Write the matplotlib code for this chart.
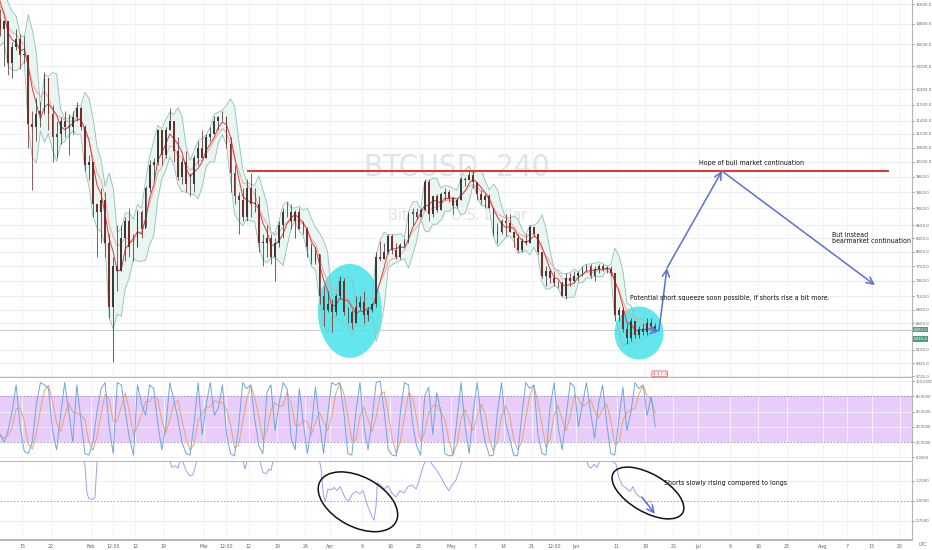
import numpy as np
import pandas as pd
import matplotlib
matplotlib.use('Agg')
import matplotlib.pyplot as plt
import matplotlib.dates as mdates
import matplotlib.transforms as mtransforms
from matplotlib.patches import Ellipse
from matplotlib.ticker import NullLocator
from matplotlib import font_manager

# daily candles, Jan 4 .. Jun 20 2018 (first five days are only band warm-up)
START = '2018-01-04'
close = [
    15100, 17000, 17100, 16200, 15000,
    14600, 14900, 13300, 13900, 14200, 13600, 13600,
    11300, 11200, 11600, 11700, 12800, 11600, 10900,
    11000, 11400, 11200, 11200, 11500, 11800, 11200,
    10100, 10200, 9100, 8900, 9200, 8200, 6900,
    7700, 7600, 8300, 8700, 8100, 8100, 8900,
    8500, 9500, 10100, 10200, 11100, 10400, 11100,
    11400, 10500, 9800, 10200, 9600, 9600, 10300,
    10600, 10300, 10900, 11000, 11400, 11500, 11500,
    10700, 9900, 9300, 9200, 8800, 9500, 9100,
    9100, 8200, 8200, 8300, 7900, 8200, 8600,
    8900, 8900, 8700, 8900, 8500, 8500, 8100,
    7800, 7950, 7100, 6850, 6950, 6800, 7100,
    7400, 6800, 6800, 6600, 6900, 7000, 6750,
    6850, 6950, 7900, 7850, 8000, 8350, 8050,
    7900, 8150, 8250, 8850, 8900, 8800, 8950,
    9650, 8850, 9300, 8950, 9350, 9400, 9250,
    9050, 9200, 9750, 9700, 9850, 9650, 9350,
    9200, 9300, 9000, 8400, 8450, 8700, 8650,
    8450, 8300, 8050, 8250, 8200, 8550, 8400,
    8000, 7500, 7600, 7450, 7350, 7350, 7100,
    7450, 7400, 7500, 7550, 7650, 7700, 7500,
    7650, 7700, 7650, 7650, 7550, 6750, 6850,
    6500, 6350, 6650, 6400, 6500, 6450, 6600,
    6550, 6490,
]
high = [
    15500, 17200, 17250, 17100, 16300,
    15400, 14950, 14900, 14100, 14600, 14400, 14300,
    13600, 11700, 12100, 12000, 13000, 12800, 11900,
    11400, 11500, 11700, 11600, 11700, 12000, 11850,
    11250, 10400, 10200, 9100, 9500, 9400, 8400,
    7900, 8600, 8600, 8800, 9000, 8400, 8950,
    8950, 9550, 10250, 10300, 11150, 11100, 11200,
    11800, 11300, 10900, 10300, 10500, 9900, 10400,
    10800, 11100, 11000, 11200, 11550, 11550, 11700,
    11550, 10900, 10100, 9400, 9500, 9750, 9900,
    9500, 9300, 8400, 8600, 8400, 8300, 8700,
    9000, 9150, 9100, 8950, 9000, 8700, 8550,
    8200, 8100, 7950, 7300, 7200, 7050, 7150,
    7500, 7450, 6900, 6850, 7100, 7100, 7200,
    6900, 6980, 8000, 8250, 8200, 8400, 8400,
    8200, 8200, 8300, 8900, 9000, 9000, 9000,
    9750, 9750, 9300, 9350, 9400, 9500, 9450,
    9250, 9250, 9800, 9800, 9990, 9950, 9650,
    9450, 9350, 9350, 9000, 8650, 8750, 8850,
    8850, 8450, 8400, 8300, 8400, 8600, 8550,
    8400, 8000, 7700, 7650, 7600, 7400, 7400,
    7550, 7550, 7600, 7600, 7700, 7750, 7750,
    7700, 7750, 7750, 7700, 7700, 7550, 6900,
    6900, 6600, 6700, 6650, 6550, 6600, 6700,
    6700, 6600,
]
low = [
    14400, 14900, 16400, 15800, 14000,
    14300, 13200, 12900, 12800, 13800, 13100, 13300,
    10600, 9450, 10800, 11200, 11600, 11100, 10200,
    10300, 10700, 10900, 10400, 11000, 11400, 11100,
    9950, 9700, 8800, 7900, 8200, 7900, 6700,
    5950, 7200, 7600, 7800, 7900, 7800, 8100,
    8300, 8550, 9400, 9700, 10100, 10100, 10300,
    11100, 10200, 9700, 9600, 9400, 9300, 9400,
    10100, 10300, 10300, 10800, 11000, 11100, 11400,
    10600, 9400, 9100, 8400, 8700, 8700, 8800,
    8900, 8000, 7700, 7900, 7750, 7400, 8100,
    8300, 8800, 8500, 8300, 8500, 8400, 7900,
    7750, 7750, 6950, 6550, 6800, 6450, 6750,
    7050, 6750, 6600, 6500, 6600, 6850, 6600,
    6650, 6800, 6900, 7800, 7850, 7950, 7950,
    7850, 7850, 8100, 8200, 8600, 8750, 8800,
    8950, 8700, 8800, 8900, 8950, 9200, 9150,
    8850, 9000, 9200, 9550, 9700, 9500, 9200,
    9100, 9000, 9000, 8350, 8200, 8400, 8350,
    8450, 8100, 8000, 8000, 8150, 8200, 8350,
    7950, 7450, 7300, 7350, 7300, 7250, 7100,
    7050, 7300, 7350, 7400, 7500, 7600, 7450,
    7400, 7550, 7600, 7550, 7500, 6650, 6650,
    6450, 6250, 6300, 6350, 6350, 6400, 6400,
    6500, 6450,
]

# stochastic %K, one value per day from Jan 9
STOCH_START = '2018-01-09'
stoch_k = [
    30, 20, 35, 60, 95, 40,
    8, 5, 20, 70, 98, 95, 90, 35, 10, 55,
    98, 60, 20, 95, 50, 5, 3, 20, 60, 90,
    98, 40, 5, 98, 95, 60, 25, 3, 95, 70,
    55, 95, 90, 45, 10, 40, 98, 75, 50, 20,
    5, 3, 45, 98, 30, 70, 98, 55, 65, 95,
    30, 5, 2, 40, 98, 90, 95, 50, 15, 5,
    85, 95, 35, 70, 98, 90, 25, 10, 90, 45,
    5, 40, 92, 45, 5, 55, 98, 95, 98, 60,
    5, 3, 60, 98, 40, 10, 50, 98, 100, 60,
    10, 3, 2, 60, 98, 95, 45, 15, 3, 80,
    92, 30, 85, 60, 5, 2, 3, 50, 98, 40,
    5, 60, 98, 50, 20, 2, 3, 60, 98, 45,
    25, 3, 2, 55, 98, 90, 95, 30, 5, 3,
    65, 98, 40, 10, 55, 98, 92, 40, 70, 98,
    60, 25, 70, 95, 45, 5, 3, 50, 92, 35,
    60, 98, 90, 95, 55, 80, 40,
]

# shorts/longs ratio, (days after Jan 15, value); above 1.49 runs off the pane
ratio_days = [-5.5, 14.3, 15.5, 16.0, 16.5, 17.5, 18.0, 18.5, 19.2, 36.0, 37.0, 37.8, 38.5,
              39.3, 40.5, 41.5, 42.2, 43.2, 54.6, 55.1, 55.6, 58.8, 59.5, 60.3, 61.0, 61.5,
              62.0, 73.1, 73.9, 74.4, 74.9, 75.6, 76.4, 77.1, 77.8, 78.6, 79.3, 80.0, 80.8,
              81.5, 82.5, 83.5, 84.3, 85.0, 85.7, 86.5, 87.0, 87.5, 87.8, 88.5, 89.5, 90.4,
              91.4, 92.4, 93.4, 94.4, 95.4, 96.4, 97.4, 98.1, 98.8, 99.6, 100.8, 101.6,
              102.5, 103.5, 104.5, 105.5, 106.3, 107.2, 108.2, 109.2, 139.1, 139.9, 140.6,
              141.4, 142.1, 142.8, 145.8, 146.8, 147.5, 148.3, 149.3, 150.3, 151.0, 151.7,
              152.7, 153.4, 154.2, 155.0, 155.7]
ratio_vals = [1.70, 1.65, 1.45, 1.10, 1.03, 1.02, 1.05, 1.50, 1.70, 1.60, 1.42, 1.44, 1.41,
              1.55, 1.38, 1.31, 1.33, 1.50, 1.50, 1.40, 1.50, 1.50, 1.36, 1.34, 1.40, 1.38,
              1.50, 1.60, 1.40, 1.10, 0.99, 1.15, 1.14, 1.17, 1.13, 1.18, 1.10, 1.02, 1.00,
              1.08, 1.12, 1.09, 1.13, 1.00, 0.90, 0.80, 0.76, 0.95, 1.23, 1.20, 1.15, 1.19,
              1.10, 1.05, 1.13, 1.10, 1.18, 1.20, 1.15, 1.25, 1.38, 1.50, 1.50, 1.44,
              1.38, 1.30, 1.20, 1.13, 1.20, 1.26, 1.40, 1.60, 1.60, 1.44, 1.41,
              1.46, 1.42, 1.50, 1.50, 1.46, 1.30, 1.20, 1.16, 1.12, 1.18, 1.10,
              1.05, 1.04, 0.97, 1.00, 0.98]

price_ticks = [15600, 14800, 14000, 13200, 12400, 11900, 11400, 11000, 10600, 10200, 9800,
               9400, 9000, 8600, 8300, 8000, 7700, 7400, 7100, 6850, 6600, 6150, 5925, 5725]
stoch_ticks = [100, 80, 60, 40, 20, 0]
ratio_ticks = [1.25, 1.0, 0.75]

date_ticks = ['2018-01-15', '2018-01-22', '2018-02-01', '2018-02-06 12:00', '2018-02-12',
              '2018-02-19', '2018-03-01', '2018-03-06 12:00', '2018-03-12', '2018-03-19',
              '2018-03-26', '2018-04-01', '2018-04-09', '2018-04-16', '2018-04-23',
              '2018-05-01', '2018-05-07', '2018-05-14', '2018-05-21', '2018-05-26 12:00',
              '2018-06-01', '2018-06-11', '2018-06-18', '2018-06-25', '2018-07-01',
              '2018-07-09', '2018-07-16', '2018-07-23', '2018-08-01', '2018-08-07',
              '2018-08-13', '2018-08-20']
date_labels = ['15', '22', 'Feb', '12:00', '12', '19', 'Mar', '12:00', '12', '19', '26', 'Apr',
               '9', '16', '23', 'May', '7', '14', '21', '12:00', 'Jun', '11', '18', '25', 'Jul',
               '9', '16', '23', 'Aug', '7', '13', '20']

# ---- derived series
dates = pd.date_range(START, periods=len(close), freq='D') + pd.Timedelta(hours=12)
xs = mdates.date2num(dates)
c = np.array(close, float)
o = np.concatenate([[c[0]], c[:-1]])
h = np.array(high, float)
l = np.array(low, float)
s = pd.Series(c)
mid = s.rolling(4, min_periods=1).mean()
sd = s.rolling(4, min_periods=1).std(ddof=0)
band_up = mid + 1.8 * sd
band_lo = mid - 1.8 * sd
ema = s.ewm(span=6).mean()

sx = mdates.date2num(pd.date_range(STOCH_START, periods=len(stoch_k), freq='D') + pd.Timedelta(hours=12))
stoch_d = pd.Series(stoch_k, dtype=float).rolling(3, min_periods=1).mean()

base = mdates.date2num(pd.Timestamp('2018-01-15'))
rx = base + np.array(ratio_days)

names = {f.name for f in font_manager.fontManager.ttflist}
if 'Liberation Sans Narrow' in names:
    plt.rcParams['font.family'] = ['Liberation Sans Narrow', 'DejaVu Sans']
else:
    plt.rcParams['font.family'] = ['DejaVu Sans']
    plt.rcParams['font.stretch'] = 'condensed'

W, H = 932, 550
fig = plt.figure(figsize=(W / 100, H / 100), dpi=100, facecolor='white')
PW = 912 / W
ax1 = fig.add_axes([0, 1 - 378 / H, PW, 378 / H])
ax2 = fig.add_axes([0, 1 - 462 / H, PW, 84 / H], sharex=ax1)
ax3 = fig.add_axes([0, 1 - 540 / H, PW, 78 / H], sharex=ax1)

GRID = '#eceef3'
AX = '#b5b5b5'
TXT = '#666666'
ANN = 5.0

# ---- main pane
ax1.set_yscale('log')
for p in price_ticks:
    ax1.axhline(p, color=GRID, lw=0.8, zorder=0)

ax1.text(0.501, 0.556, 'BTCUSD, 240', transform=ax1.transAxes, ha='center', va='center',
         fontsize=22.5, color='#e2e2e4', zorder=0.5)
ax1.text(0.502, 0.431, 'Bitcoin / U.S. Dollar', transform=ax1.transAxes, ha='center',
         va='center', fontsize=11.5, color='#e2e2e4', zorder=0.5)

# cyan highlight circles: (day after Jan 15, price, width in, height in)
for cd, cp, w, hh in [(81.0, 6825, 0.64, 0.94), (152.5, 6430, 0.49, 0.53)]:
    t = fig.dpi_scale_trans + mtransforms.ScaledTranslation(base + cd, cp, ax1.transData)
    ax1.add_patch(Ellipse((0, 0), w, hh, transform=t, facecolor='#52e5eb', edgecolor='none',
                          alpha=0.9, zorder=1.5))

ax1.fill_between(xs, band_lo, band_up, color='#e9f5f1', lw=0, zorder=1)
ax1.plot(xs, band_up, color='#8cc3b6', lw=0.6, zorder=2)
ax1.plot(xs, band_lo, color='#8cc3b6', lw=0.6, zorder=2)
ax1.plot(xs, ema, color='#f0a5a0', lw=0.7, zorder=2)
ax1.plot(xs, mid, color='#d9403a', lw=0.7, zorder=2.1)

cols = np.where(c >= o, '#3a3a3a', '#7a2c2c')
ax1.vlines(xs, l, h, colors=cols, lw=0.55, zorder=3)
ax1.bar(xs, np.maximum(np.abs(c - o), c * 0.002), bottom=np.minimum(o, c), width=0.45,
        color=cols, lw=0, zorder=3.2)

ax1.axhline(c[-1], color='#c9c9c9', lw=0.8, zorder=0.8)

# resistance line
ax1.plot([base + 55.8, base + 214.0], [9950, 9950], color='#e5302a', lw=1.4, zorder=4)

# projection arrows (day after Jan 15, price)
path = [(155.2, 6482), (157.4, 6465), (159.4, 7660), (173.0, 9950), (210.8, 7318)]
for (d0, p0), (d1, p1) in zip(path[:-1], path[1:]):
    ax1.annotate('', xy=(base + d1, p1), xytext=(base + d0, p0),
                 arrowprops=dict(arrowstyle='->,head_length=0.5,head_width=0.25',
                                 color='#5b6fd0', lw=1.1, shrinkA=0, shrinkB=0), zorder=5)

ax1.text(base + 180.2, 10167, 'Hope of bull market continuation', ha='center', va='center',
         fontsize=ANN, color='#111111', zorder=6)
ax1.text(base + 200.2, 8450, 'But instead\nbearmarket continuation', ha='left', va='top',
         fontsize=ANN, color='#111111', linespacing=1.05, zorder=6)
ax1.text(base + 150.3, 7066, 'Potential short squeeze soon possible, if shorts rise a bit more.',
         ha='left', va='center', fontsize=ANN, color='#111111', zorder=6)

ax1.text(base + 157.6, 5760, '4 3 7 3', ha='center', va='center', fontsize=3.2, color='#c03030',
         bbox=dict(boxstyle='round,pad=0.2', fc='white', ec='#e06060', lw=0.6), zorder=6)

bt = mtransforms.blended_transform_factory(ax1.transAxes, ax1.transData)
for pv, lab in [(c[-1], f'{c[-1]:.1f}'), (6330, '6330.4')]:
    ax1.text(1.002, pv, lab, transform=bt, ha='left', va='center', fontsize=3.2,
             color='white', clip_on=False,
             bbox=dict(boxstyle='square,pad=0.2', fc='#4f9c7a', ec='none'), zorder=7)

ax1.set_ylim(5696, 15776)
ax1.set_yticks(price_ticks)
ax1.set_yticklabels([f'{p:.1f}' for p in price_ticks])
ax1.yaxis.set_minor_locator(NullLocator())

# ---- stochastic pane
ax2.axhspan(20, 80, color='#e8cdfb', lw=0, zorder=0)
for v in (80, 20):
    ax2.axhline(v, color='#9a86b4', lw=0.6, ls=(0, (2, 2)), zorder=1)
for v in (100, 60, 40, 0):
    ax2.axhline(v, color=GRID, lw=0.7, zorder=0.5)
ax2.plot(sx, stoch_d, color='#e6a373', lw=0.7, zorder=2)
ax2.plot(sx, stoch_k, color='#6ea6dc', lw=0.7, zorder=2.1)
ax2.set_ylim(-6, 104)
ax2.set_yticks(stoch_ticks)
ax2.set_yticklabels([f'{v:.4f}' for v in stoch_ticks])

# ---- ratio pane
ax3.axhline(1.0, color='#9a9a9a', lw=0.6, ls=(0, (2, 2)), zorder=1)
for v in (1.25, 0.75):
    ax3.axhline(v, color=GRID, lw=0.7, zorder=0.5)
ax3.plot(rx, ratio_vals, color='#9d9ff0', lw=0.7, zorder=2)
for cd, cv, w, hh, ang in [(83.0, 0.99, 0.86, 0.50, -28), (154.7, 1.10, 0.80, 0.38, -30)]:
    t = fig.dpi_scale_trans + mtransforms.ScaledTranslation(base + cd, cv, ax3.transData)
    ax3.add_patch(Ellipse((0, 0), w, hh, angle=ang, transform=t, facecolor='none',
                          edgecolor='#111111', lw=1.1, zorder=3))
ax3.annotate('', xy=(base + 156.4, 0.84), xytext=(base + 153.2, 1.05),
             arrowprops=dict(arrowstyle='->,head_length=0.5,head_width=0.25', color='#5b6fd0',
                             lw=1.1, shrinkA=0, shrinkB=0), zorder=4)
ax3.text(base + 158.7, 1.225, 'Shorts slowly rising compared to longs', ha='left', va='center',
         fontsize=ANN, color='#111111')
ax3.set_ylim(0.5125, 1.4875)
ax3.set_yticks(ratio_ticks)
ax3.set_yticklabels([f'{v:.4f}' for v in ratio_ticks])

# ---- shared axis styling
tick_x = mdates.date2num(pd.to_datetime(date_ticks, format='mixed'))
for ax in (ax1, ax2, ax3):
    ax.set_facecolor('white')
    ax.yaxis.tick_right()
    ax.tick_params(axis='y', labelsize=3.2, colors=TXT, length=1.5, pad=1, width=0.5)
    ax.tick_params(axis='x', length=0)
    for sp in ('top', 'left'):
        ax.spines[sp].set_visible(False)
    ax.spines['right'].set_color(AX)
    ax.spines['right'].set_linewidth(0.8)
    ax.spines['bottom'].set_color(AX)
    ax.spines['bottom'].set_linewidth(1.4)
    ax.set_xticks(tick_x)
    ax.grid(axis='x', color='#f3f3f6', lw=0.7, zorder=0)
    ax.set_axisbelow(True)
ax2.tick_params(axis='y', labelsize=3.0)
for ax in (ax1, ax2):
    ax.tick_params(axis='x', labelbottom=False)
ax3.set_xticklabels(date_labels)
ax3.tick_params(axis='x', labelsize=3.8, colors=TXT, pad=3)
ax1.set_xlim(base - 5.49, base + 219.98)

fig.text(923 / W, 1 - 545 / H, 'UTC', fontsize=3.3, color=TXT, ha='center', va='center')

fig.savefig('out.png', dpi=100, facecolor='white')
